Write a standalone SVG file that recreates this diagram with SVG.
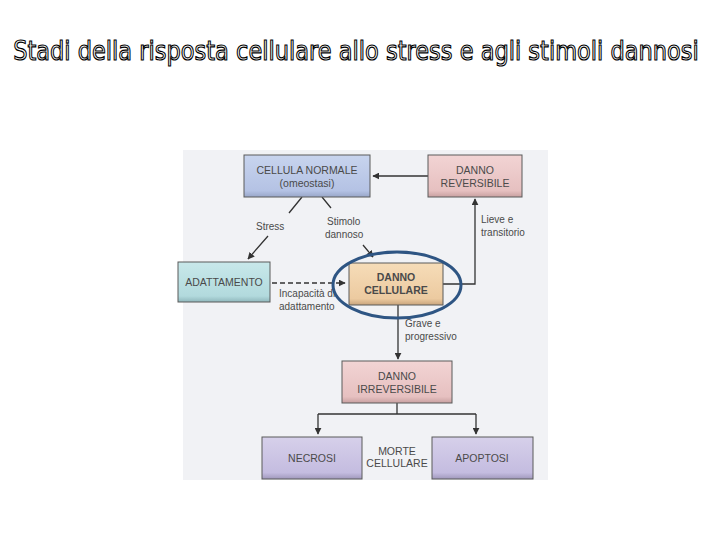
<svg xmlns="http://www.w3.org/2000/svg" width="720" height="540" viewBox="0 0 720 540">
<defs>
<style>
.t{font-family:"Liberation Sans",Arial,sans-serif;font-size:10.5px;fill:#4a4a4a;text-anchor:middle}
.l{font-family:"Liberation Sans",Arial,sans-serif;font-size:10px;fill:#4a4a4a}
.box{stroke:#5a5a5a;stroke-width:1}
.c{stroke:#333;stroke-width:1.3;fill:none}
</style>
<marker id="ah" viewBox="0 0 10 10" refX="9" refY="5" markerWidth="7" markerHeight="7" orient="auto" markerUnits="userSpaceOnUse">
<path d="M0,0 L10,5 L0,10 Z" fill="#333"/>
</marker>
<linearGradient id="gb" x1="0" y1="0" x2="0" y2="1"><stop offset="0" stop-color="#c8d4ee"/><stop offset="0.85" stop-color="#b4c2e4"/><stop offset="1" stop-color="#98a6c8"/></linearGradient>
<linearGradient id="gp" x1="0" y1="0" x2="0" y2="1"><stop offset="0" stop-color="#f2d4d4"/><stop offset="0.85" stop-color="#e6c0c0"/><stop offset="1" stop-color="#c8a0a0"/></linearGradient>
<linearGradient id="gc" x1="0" y1="0" x2="0" y2="1"><stop offset="0" stop-color="#c8e8ea"/><stop offset="0.85" stop-color="#b2dadd"/><stop offset="1" stop-color="#90b8bc"/></linearGradient>
<linearGradient id="go" x1="0" y1="0" x2="0" y2="1"><stop offset="0" stop-color="#f6dcb8"/><stop offset="0.85" stop-color="#eccaa0"/><stop offset="1" stop-color="#c8a47c"/></linearGradient>
<linearGradient id="gv" x1="0" y1="0" x2="0" y2="1"><stop offset="0" stop-color="#d6d0ea"/><stop offset="0.85" stop-color="#c4bce0"/><stop offset="1" stop-color="#a098bc"/></linearGradient>
</defs>
<rect width="720" height="540" fill="#ffffff"/>
<text x="356" y="50" transform="translate(0,0) scale(1,1.2)" text-anchor="middle" font-family="'DejaVu Sans','Noto Sans',sans-serif" font-size="22.5" fill="#ffffff" stroke="#000" stroke-width="1">Stadi della risposta cellulare allo stress e agli stimoli dannosi</text>
<rect x="183" y="150" width="365" height="330" fill="#f1f2f5"/>
<g id="connectors">
<line class="c" x1="428" y1="176" x2="373" y2="176" marker-end="url(#ah)"/>
<path class="c" d="M302,197 L289,213 M268,236 L248,259" marker-end="url(#ah)"/>
<path class="c" d="M322,197 L331,208 M363,245 L373,257" marker-end="url(#ah)"/>
<line class="c" x1="272" y1="283" x2="345" y2="283" stroke-dasharray="5,3" marker-end="url(#ah)"/>
<polyline class="c" points="443,284 475,284 475,199" marker-end="url(#ah)"/>
<line class="c" x1="398" y1="305" x2="398" y2="359" marker-end="url(#ah)"/>
<polyline class="c" points="397,403 397,414"/>
<polyline class="c" points="318,414 476,414"/>
<line class="c" x1="318" y1="414" x2="318" y2="434" marker-end="url(#ah)"/>
<line class="c" x1="476" y1="414" x2="476" y2="434" marker-end="url(#ah)"/>
<text class="l" x="256" y="230">Stress</text>
<text class="l" x="327" y="225">Stimolo</text>
<text class="l" x="325" y="238">dannoso</text>
<text class="l" x="481" y="223">Lieve e</text>
<text class="l" x="481" y="236">transitorio</text>
<text class="l" x="279" y="297">Incapacità di</text>
<text class="l" x="279" y="310">adattamento</text>
<text class="l" x="405" y="327">Grave e</text>
<text class="l" x="405" y="340">progressivo</text>
<text class="t" x="397" y="455">MORTE</text>
<text class="t" x="397" y="467">CELLULARE</text>
</g>
<g id="cellula-normale">
<rect class="box" x="244" y="155" width="126" height="42" fill="url(#gb)"/>
<text class="t" x="307" y="174">CELLULA NORMALE</text>
<text class="t" x="307" y="187">(omeostasi)</text>
</g>
<g id="danno-reversibile">
<rect class="box" x="428" y="155" width="94" height="42" fill="url(#gp)"/>
<text class="t" x="475" y="174">DANNO</text>
<text class="t" x="475" y="187">REVERSIBILE</text>
</g>
<g id="adattamento">
<rect class="box" x="178" y="262" width="92" height="40" fill="url(#gc)"/>
<text class="t" x="224" y="286">ADATTAMENTO</text>
</g>
<g id="danno-cellulare">
<rect class="box" x="349" y="263" width="94" height="42" fill="url(#go)"/>
<text class="t" x="396" y="281" font-weight="bold" fill="#333">DANNO</text>
<text class="t" x="396" y="294" font-weight="bold" fill="#333">CELLULARE</text>
<ellipse cx="397" cy="285" rx="64" ry="33" fill="none" stroke="#2e5583" stroke-width="3"/>
</g>
<g id="danno-irreversibile">
<rect class="box" x="342" y="361" width="110" height="42" fill="url(#gp)"/>
<text class="t" x="397" y="380">DANNO</text>
<text class="t" x="397" y="393">IRREVERSIBILE</text>
</g>
<g id="necrosi">
<rect class="box" x="262" y="437" width="100" height="42" fill="url(#gv)"/>
<text class="t" x="312" y="462">NECROSI</text>
</g>
<g id="apoptosi">
<rect class="box" x="432" y="437" width="101" height="42" fill="url(#gv)"/>
<text class="t" x="482" y="462">APOPTOSI</text>
</g>
</svg>
